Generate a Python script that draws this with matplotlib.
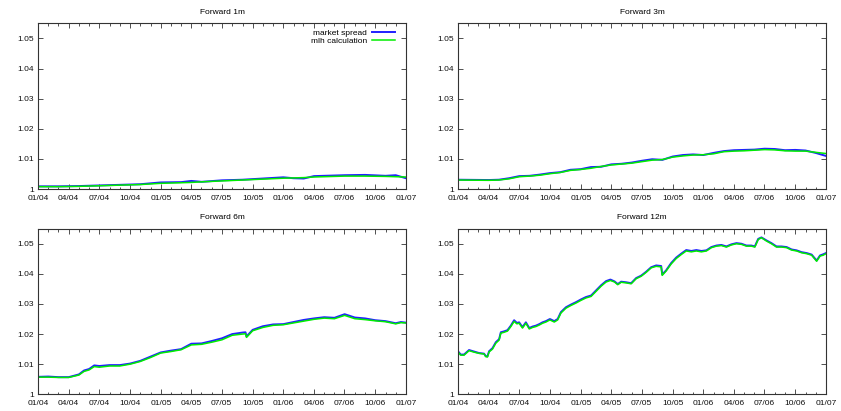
import matplotlib
matplotlib.use("Agg")
import matplotlib.pyplot as plt
import matplotlib.dates as mdates
import pandas as pd
import numpy as np

plt.rcParams['font.family'] = ['Liberation Sans', 'DejaVu Sans']

titles = ["Forward 1m", "Forward 3m", "Forward 6m", "Forward 12m"]
series_names = ["market spread", "mlh calculation"]
ytick_vals = [1.0, 1.01, 1.02, 1.03, 1.04, 1.05]
ytick_labels = ["1", "1.01", "1.02", "1.03", "1.04", "1.05"]

# month offsets from 2004-01-01
m_1m = [0, 2, 4, 6, 8, 10, 12, 14, 15, 16, 18, 20, 22, 24, 25, 26, 27, 28, 30, 32, 34, 35, 36]
g_1m = [1.0008, 1.0008, 1.0009, 1.0011, 1.0013, 1.0015, 1.0019, 1.0021, 1.0022, 1.0024, 1.0027, 1.0030,
        1.0033, 1.0036, 1.0037, 1.0038, 1.0040, 1.0041, 1.0043, 1.0043, 1.0042, 1.0041, 1.0040]
b_1m = [1.0009, 1.0009, 1.0010, 1.0012, 1.0014, 1.0016, 1.0022, 1.0023, 1.0027, 1.0024, 1.0029, 1.0031,
        1.0035, 1.0039, 1.0036, 1.0035, 1.0043, 1.0044, 1.0046, 1.0047, 1.0044, 1.0046, 1.0036]

m_3m = [0, 3, 4, 5, 6, 7, 8, 9, 10, 11, 12, 13, 14, 15, 16, 17, 18, 19, 20, 21, 22, 23, 24, 25, 26, 27,
        28, 29, 30, 31, 32, 33, 34, 35, 35.5, 36]
g_3m = [1.0030, 1.0029, 1.0030, 1.0034, 1.0041, 1.0043, 1.0046, 1.0051, 1.0055, 1.0062, 1.0065, 1.0069,
        1.0075, 1.0080, 1.0083, 1.0086, 1.0091, 1.0096, 1.0098, 1.0106, 1.0110, 1.0113, 1.0114, 1.0117,
        1.0124, 1.0126, 1.0127, 1.0129, 1.0131, 1.0130, 1.0127, 1.0126, 1.0126, 1.0122, 1.0120, 1.0118]
b_3m = [1.0031, 1.0030, 1.0031, 1.0036, 1.0043, 1.0044, 1.0048, 1.0053, 1.0056, 1.0064, 1.0066, 1.0073,
        1.0074, 1.0082, 1.0084, 1.0088, 1.0094, 1.0099, 1.0097, 1.0108, 1.0113, 1.0115, 1.0113, 1.0120,
        1.0126, 1.0129, 1.0130, 1.0131, 1.0134, 1.0133, 1.0129, 1.0130, 1.0128, 1.0120, 1.0115, 1.0110]

m_6m = [0, 1, 2, 3, 4, 4.5, 5, 5.5, 6, 7, 8, 9, 10, 11, 12, 13, 14, 15, 16, 17, 18, 19, 20, 20.3, 20.4,
        21, 22, 23, 24, 25, 26, 27, 28, 29, 30, 31, 32, 33, 34, 35, 35.5, 36]
g_6m = [1.0057, 1.0057, 1.0056, 1.0056, 1.0064, 1.0076, 1.0081, 1.0092, 1.0090, 1.0094, 1.0094, 1.0100,
        1.0109, 1.0122, 1.0137, 1.0142, 1.0148, 1.0164, 1.0166, 1.0173, 1.0181, 1.0196, 1.0200, 1.0201,
        1.0189, 1.0211, 1.0222, 1.0229, 1.0231, 1.0237, 1.0243, 1.0249, 1.0253, 1.0251, 1.0262, 1.0251,
        1.0248, 1.0244, 1.0241, 1.0234, 1.0238, 1.0237]
b_6m = [1.0058, 1.0059, 1.0057, 1.0057, 1.0066, 1.0079, 1.0084, 1.0096, 1.0094, 1.0097, 1.0097, 1.0102,
        1.0111, 1.0125, 1.0139, 1.0145, 1.0150, 1.0168, 1.0169, 1.0177, 1.0186, 1.0200, 1.0205, 1.0206,
        1.0192, 1.0214, 1.0226, 1.0232, 1.0233, 1.0240, 1.0247, 1.0252, 1.0256, 1.0254, 1.0266, 1.0255,
        1.0252, 1.0246, 1.0243, 1.0236, 1.0240, 1.0238]

m_12m = [0, 0.26, 0.59, 1.08, 1.57, 2.06, 2.55, 2.71, 2.88, 3.04, 3.37, 3.70, 4.02, 4.19, 4.51, 4.84,
         5.17, 5.49, 5.76, 5.98, 6.31, 6.64, 6.97, 7.29, 7.62, 7.95, 8.27, 8.60, 8.99, 9.42, 9.75, 10.07,
         10.56, 11.05, 11.54, 12.03, 12.52, 13.02, 13.51, 14.0, 14.49, 14.91, 15.31, 15.63, 15.96, 16.45,
         16.94, 17.43, 17.92, 18.41, 18.90, 19.39, 19.88, 19.98, 20.35, 20.86, 21.35, 21.84, 22.33, 22.83,
         23.32, 23.81, 24.30, 24.79, 25.28, 25.77, 26.26, 26.75, 27.24, 27.73, 28.22, 28.71, 29.04, 29.37,
         29.69, 30.18, 30.67, 31.16, 31.65, 32.15, 32.64, 33.13, 33.62, 34.11, 34.6, 35.09, 35.42, 35.74, 36]
g_12m = [1.0141, 1.0130, 1.0130, 1.0145, 1.0140, 1.0136, 1.0134, 1.0125, 1.0124, 1.0141, 1.0150, 1.0170,
         1.0180, 1.0203, 1.0206, 1.0210, 1.0225, 1.0242, 1.0234, 1.0236, 1.0220, 1.0236, 1.0217, 1.0222,
         1.0225, 1.0230, 1.0236, 1.0240, 1.0247, 1.0240, 1.0247, 1.0270, 1.0286, 1.0295, 1.0303, 1.0312,
         1.0320, 1.0325, 1.0342, 1.0359, 1.0373, 1.0378, 1.0373, 1.0364, 1.0372, 1.0370, 1.0367, 1.0384,
         1.0392, 1.0405, 1.0420, 1.0425, 1.0423, 1.0395, 1.0409, 1.0433, 1.0451, 1.0464, 1.0476, 1.0473,
         1.0476, 1.0473, 1.0476, 1.0487, 1.0492, 1.0494, 1.0489, 1.0496, 1.0500, 1.0498, 1.0492, 1.0492,
         1.0489, 1.0514, 1.0520, 1.0509, 1.0500, 1.0489, 1.0489, 1.0487, 1.0479, 1.0476, 1.0470, 1.0467,
         1.0462, 1.0442, 1.0459, 1.0462, 1.0467]
b_12m = [1.0143, 1.0132, 1.0132, 1.0147, 1.0142, 1.0137, 1.0135, 1.0127, 1.0126, 1.0143, 1.0153, 1.0173,
         1.0183, 1.0206, 1.0209, 1.0213, 1.0228, 1.0246, 1.0237, 1.0239, 1.0223, 1.0239, 1.0220, 1.0225,
         1.0228, 1.0233, 1.0239, 1.0243, 1.0250, 1.0243, 1.0250, 1.0273, 1.0289, 1.0298, 1.0306, 1.0315,
         1.0323, 1.0328, 1.0345, 1.0362, 1.0376, 1.0381, 1.0375, 1.0366, 1.0374, 1.0372, 1.0369, 1.0386,
         1.0394, 1.0407, 1.0422, 1.0428, 1.0426, 1.0398, 1.0411, 1.0436, 1.0454, 1.0467, 1.0479, 1.0476,
         1.0479, 1.0476, 1.0478, 1.0489, 1.0494, 1.0496, 1.0491, 1.0498, 1.0502, 1.0500, 1.0494, 1.0494,
         1.0491, 1.0516, 1.0521, 1.0511, 1.0502, 1.0491, 1.0491, 1.0489, 1.0481, 1.0478, 1.0472, 1.0469,
         1.0464, 1.0444, 1.0461, 1.0465, 1.0469]

panels = [(m_1m, b_1m, g_1m), (m_3m, b_3m, g_3m), (m_6m, b_6m, g_6m), (m_12m, b_12m, g_12m)]

start = pd.Timestamp("2004-01-01")
end = pd.Timestamp("2007-01-01")

def to_dates(months):
    return start + pd.to_timedelta(np.asarray(months) * 30.4375, unit="D")

fig = plt.figure(figsize=(8.41, 4.11), dpi=100)
W, H = 0.4376, 0.4030
positions = [(0.0452, 0.5400), (0.5446, 0.5400), (0.0452, 0.0406), (0.5446, 0.0406)]

for i, (pos, (mo, blue, green), title) in enumerate(zip(positions, panels, titles)):
    ax = fig.add_axes([pos[0], pos[1], W, H])
    d = to_dates(mo)
    ax.plot(d, blue, color="#2020ff", lw=1.4, label=series_names[0])
    ax.plot(d, green, color="#00ee00", lw=1.1, label=series_names[1])
    ax.set_xlim(start, end)
    ax.set_ylim(1.0, 1.055)
    ax.set_yticks(ytick_vals)
    ax.set_yticklabels(ytick_labels)
    ax.xaxis.set_major_locator(mdates.MonthLocator(bymonth=[1, 4, 7, 10]))
    ax.xaxis.set_minor_locator(mdates.MonthLocator())
    ax.xaxis.set_major_formatter(mdates.DateFormatter("%m/%y"))
    ax.tick_params(which="both", direction="in", top=True, right=True, labelsize=6,
                   width=0.6, color="#333333", labelcolor="#111111")
    ax.tick_params(axis="x", pad=4)
    ax.tick_params(axis="y", pad=3)
    ax.tick_params(which="major", length=3.5)
    ax.tick_params(which="minor", length=1.8)
    for s in ax.spines.values():
        s.set_linewidth(0.8)
        s.set_color("#333333")
    ax.set_title(title, fontsize=6, pad=7)
    if i == 0:
        ax.legend(loc="upper right", bbox_to_anchor=(0.978, 0.98), frameon=False,
                  markerfirst=False, fontsize=6, handlelength=2.8, handletextpad=0.6,
                  labelspacing=0.05, borderaxespad=0.0, borderpad=0.3)

fig.savefig("out.png", dpi=100)
